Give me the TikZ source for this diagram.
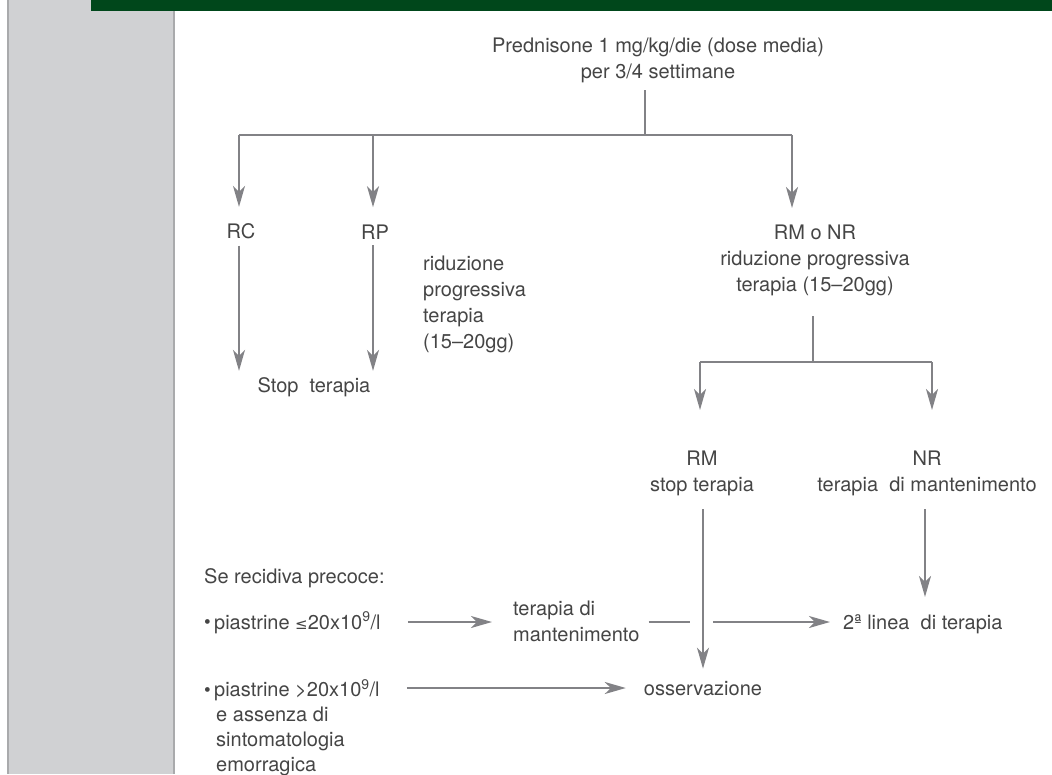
\documentclass[tikz,border=0pt]{standalone}
\usepackage{fontspec}
\setmainfont{TeX Gyre Heros}
\newfontfamily\symfont{DejaVu Sans}
\usetikzlibrary{arrows.meta,calc}
\definecolor{bargreen}{HTML}{00471B}
\definecolor{panelgray}{HTML}{D0D1D3}
\definecolor{paneledge}{HTML}{A9AAAC}
\definecolor{linegray}{HTML}{828286}
\definecolor{textgray}{HTML}{454545}
\tikzset{
  txt/.style={inner sep=0pt, text=textgray, font=\fontsize{20}{26}\selectfont},
  ln/.style={draw=linegray, line width=2pt},
  arr/.style={ln, -{Stealth[length=21pt,width=12pt,inset=6pt]}}
}
\newcommand{\smallbullet}{\raisebox{0.5pt}{\scalebox{0.95}{\textbullet}}\,}
\begin{document}
\begin{tikzpicture}[x=1pt,y=-1pt]
\useasboundingbox (0,0) rectangle (1052,774);
% side panel and title bar
\fill[panelgray] (7,0) rectangle (174,774);
\draw[paneledge, line width=1.6pt] (7.8,0) -- (7.8,774);
\draw[paneledge, line width=1.6pt] (174,0) -- (174,774);
\fill[bargreen] (91,0) rectangle (1052,11);

% text nodes
\node[txt, anchor=north, align=center] (top) at (658,38)
  {Prednisone 1 mg/kg/die (dose media)\\per 3/4 settimane};
\node[txt, anchor=base] (rc) at (241,238) {RC};
\node[txt, anchor=base] (rp) at (375,239) {RP};
\node[txt, anchor=north, align=center] (rmnr) at (815,225)
  {RM o NR\\riduzione progressiva\\terapia (15--20gg)};
\node[txt, anchor=north west, align=left] (rid) at (423,256)
  {riduzione\\progressiva\\terapia\\(15--20gg)};
\node[txt, anchor=base] (stop) at (314,392) {Stop\ \ terapia};
\node[txt, anchor=north, align=center] (rm) at (702,451) {RM\\stop terapia};
\node[txt, anchor=north, align=center] (nr) at (927,451) {NR\\terapia\ \ di mantenimento};
\node[txt, anchor=base west] (se) at (204,583) {Se recidiva precoce:};
\node[txt, anchor=base west] (p1) at (204,629)
  {\smallbullet piastrine {\symfont\fontsize{15}{26}\selectfont ≤}20x10\textsuperscript{9}/l};
\node[txt, anchor=north west, align=left] (tdm) at (513,601) {terapia di\\mantenimento};
\node[txt, anchor=base west] (lin2) at (843,629) {2ª linea\ \ di terapia};
\node[txt, anchor=north west, align=left, font=\fontsize{20}{25}\selectfont] (p2) at (204,679)
  {\smallbullet piastrine >20x10\textsuperscript{9}/l\\
   \hspace*{12pt}e assenza di\\\hspace*{12pt}sintomatologia\\\hspace*{12pt}emorragica};
\node[txt, anchor=base] (oss) at (703,695) {osservazione};

% junction points
\coordinate (j1) at (645,135);
\coordinate (jl) at (239,135);
\coordinate (jm) at (373,135);
\coordinate (jr) at (792,135);
\coordinate (j2) at (813,362);
\coordinate (j2l) at (700,362);
\coordinate (j2r) at (932,362);
\coordinate (cm) at (703,0);
\coordinate (cn) at (925,0);
\coordinate (r1) at (0,622);
\coordinate (r2) at (0,688);

% first level
\draw[ln, shorten <=7pt] (top.south -| j1) -- (j1);
\draw[ln] (jl) -- (jr);
\draw[arr, shorten >=16pt] (jl) -- (rc.north -| jl);
\draw[arr, shorten >=17pt] (jm) -- (rp.north -| jm);
\draw[arr, shorten >=17pt] (jr) -- (rmnr.north -| jr);
\draw[arr, shorten <=7pt, shorten >=6pt] (rc.south -| jl) -- (stop.north -| jl);
\draw[arr, shorten <=6pt, shorten >=6pt] (rp.south -| jm) -- (stop.north -| jm);

% second level
\draw[ln, shorten <=20pt] (rmnr.south -| j2) -- (j2);
\draw[ln] (j2l) -- (j2r);
\draw[arr, shorten >=41pt] (j2l) -- (rm.north -| j2l);
\draw[arr, shorten >=41pt] (j2r) -- (nr.north -| j2r);
\draw[arr, shorten <=13pt, shorten >=12pt] (rm.south -| cm) -- (oss.north -| cm);
\draw[arr, shorten <=13pt, shorten >=17pt] (nr.south -| cn) -- (lin2.north -| cn);

% early relapse
\draw[arr, shorten <=27pt, shorten >=21pt] (p1.east |- r1) -- (tdm.west |- r1);
\draw[ln, shorten <=9pt] (tdm.east |- r1) -- ($(cm |- r1)+(-13,0)$);
\draw[arr, shorten >=13pt] ($(cm |- r1)+(10,0)$) -- (lin2.west |- r1);
\draw[arr, shorten <=27pt, shorten >=18pt] (p2.east |- r2) -- (oss.west |- r2);
\end{tikzpicture}
\end{document}
